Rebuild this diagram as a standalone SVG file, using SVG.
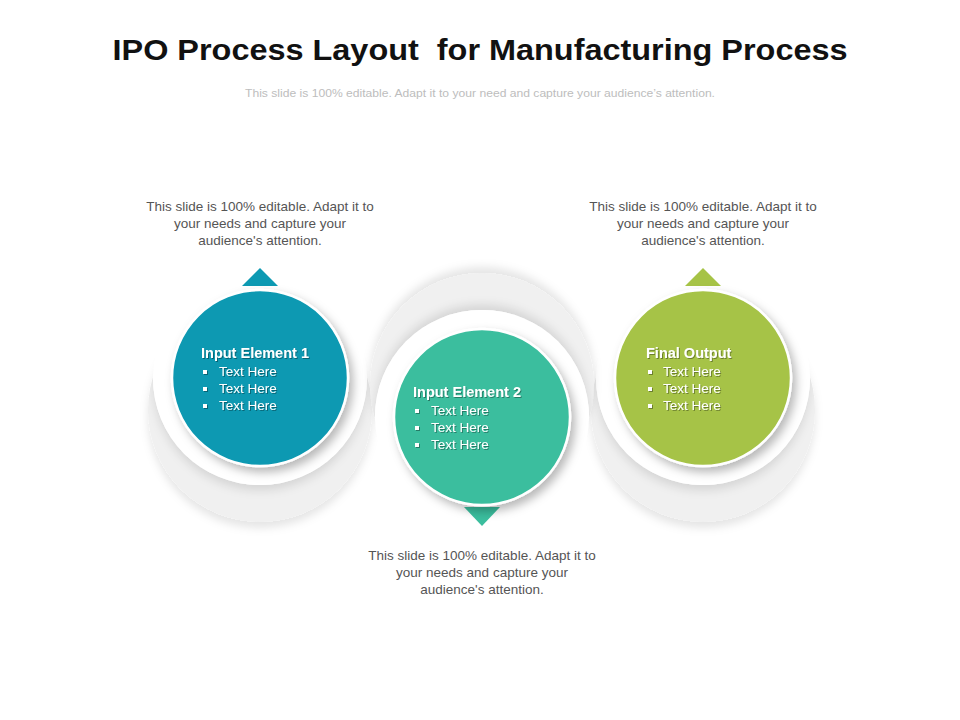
<svg xmlns="http://www.w3.org/2000/svg" width="960" height="720" viewBox="0 0 960 720">
<defs>
<style>
.title{font-family:"Liberation Sans",Arial,sans-serif;font-weight:bold;font-size:30px;fill:#111;}
.sub{font-family:"Liberation Sans",Arial,sans-serif;font-size:11px;fill:#BDBDBD;}
.desc{font-family:"Liberation Sans",Arial,sans-serif;font-size:13.5px;fill:#555;text-anchor:middle;}
.head{font-family:"Liberation Sans",Arial,sans-serif;font-weight:bold;font-size:14.5px;fill:#fff;}
.item{font-family:"Liberation Sans",Arial,sans-serif;font-size:13.5px;fill:#fff;}
.grey{fill:#F0F0F0;}
.white{fill:#fff;}
</style>
<filter id="down" x="-20%" y="-20%" width="140%" height="150%">
<feDropShadow dx="0" dy="6" stdDeviation="4" flood-color="#000" flood-opacity="0.10"/>
</filter>
<filter id="up" x="-20%" y="-30%" width="140%" height="150%">
<feDropShadow dx="0" dy="-6" stdDeviation="4" flood-color="#000" flood-opacity="0.10"/>
</filter>
<filter id="csh" x="-20%" y="-20%" width="140%" height="140%">
<feDropShadow dx="4" dy="5" stdDeviation="5" flood-color="#000" flood-opacity="0.28"/>
</filter>
<filter id="tsh" x="-10%" y="-30%" width="120%" height="160%">
<feDropShadow dx="1" dy="1" stdDeviation="0.6" flood-color="#000" flood-opacity="0.35"/>
</filter>
<clipPath id="cl"><circle cx="260" cy="410" r="112"/></clipPath>
<clipPath id="cr"><circle cx="703" cy="410" r="112"/></clipPath>
<clipPath id="cm"><circle cx="482" cy="385" r="112"/></clipPath>
</defs>
<rect width="960" height="720" fill="#fff"/>

<text class="title" x="480" y="60" text-anchor="middle" textLength="735" lengthAdjust="spacingAndGlyphs" xml:space="preserve">IPO Process Layout  for Manufacturing Process</text>
<text class="sub" x="480" y="97" text-anchor="middle" textLength="470" lengthAdjust="spacingAndGlyphs">This slide is 100% editable. Adapt it to your need and capture your audience’s attention.</text>

<g id="backdrops">
<circle class="grey" cx="260" cy="410" r="112" filter="url(#down)"/>
<g clip-path="url(#cl)"><circle class="white" cx="260" cy="378" r="107" filter="url(#down)"/></g>
<circle class="white" cx="260" cy="378" r="107"/>
<circle class="grey" cx="703" cy="410" r="112" filter="url(#down)"/>
<g clip-path="url(#cr)"><circle class="white" cx="703" cy="378" r="107" filter="url(#down)"/></g>
<circle class="white" cx="703" cy="378" r="107"/>
<circle class="grey" cx="482" cy="385" r="112" filter="url(#up)"/>
<g clip-path="url(#cm)"><circle class="white" cx="482" cy="417" r="107" filter="url(#up)"/></g>
<circle class="white" cx="482" cy="417" r="107"/>
</g>

<g id="connectors">
<polygon points="242,286 278,286 260,268" fill="#0C99B2"/>
<polygon points="685,286 721,286 703,268" fill="#A6C346"/>
<polygon points="464,507 500,507 482,526" fill="#3BBE9E"/>
</g>

<g id="node-input1">
<circle cx="260" cy="378" r="88" fill="#0C99B2" stroke="#fff" stroke-width="2.5" filter="url(#csh)"/>
<g filter="url(#tsh)">
<text class="head" x="201" y="358">Input Element 1</text>
<rect x="203" y="370" width="4" height="4" fill="#fff"/>
<text class="item" x="219" y="376">Text Here</text>
<rect x="203" y="387" width="4" height="4" fill="#fff"/>
<text class="item" x="219" y="393">Text Here</text>
<rect x="203" y="404" width="4" height="4" fill="#fff"/>
<text class="item" x="219" y="410">Text Here</text>
</g>
</g>

<g id="node-input2">
<circle cx="482" cy="417" r="88" fill="#3BBE9E" stroke="#fff" stroke-width="2.5" filter="url(#csh)"/>
<g filter="url(#tsh)">
<text class="head" x="413" y="397">Input Element 2</text>
<rect x="415" y="409" width="4" height="4" fill="#fff"/>
<text class="item" x="431" y="415">Text Here</text>
<rect x="415" y="426" width="4" height="4" fill="#fff"/>
<text class="item" x="431" y="432">Text Here</text>
<rect x="415" y="443" width="4" height="4" fill="#fff"/>
<text class="item" x="431" y="449">Text Here</text>
</g>
</g>

<g id="node-output">
<circle cx="703" cy="378" r="88" fill="#A6C346" stroke="#fff" stroke-width="2.5" filter="url(#csh)"/>
<g filter="url(#tsh)">
<text class="head" x="646" y="358">Final Output</text>
<rect x="648" y="370" width="4" height="4" fill="#fff"/>
<text class="item" x="663" y="376">Text Here</text>
<rect x="648" y="387" width="4" height="4" fill="#fff"/>
<text class="item" x="663" y="393">Text Here</text>
<rect x="648" y="404" width="4" height="4" fill="#fff"/>
<text class="item" x="663" y="410">Text Here</text>
</g>
</g>

<g id="desc-left">
<text class="desc" x="260" y="211">This slide is 100% editable. Adapt it to</text>
<text class="desc" x="260" y="228">your needs and capture your</text>
<text class="desc" x="260" y="245">audience's attention.</text>
</g>
<g id="desc-right">
<text class="desc" x="703" y="211">This slide is 100% editable. Adapt it to</text>
<text class="desc" x="703" y="228">your needs and capture your</text>
<text class="desc" x="703" y="245">audience's attention.</text>
</g>
<g id="desc-bottom">
<text class="desc" x="482" y="560">This slide is 100% editable. Adapt it to</text>
<text class="desc" x="482" y="577">your needs and capture your</text>
<text class="desc" x="482" y="594">audience's attention.</text>
</g>
</svg>
